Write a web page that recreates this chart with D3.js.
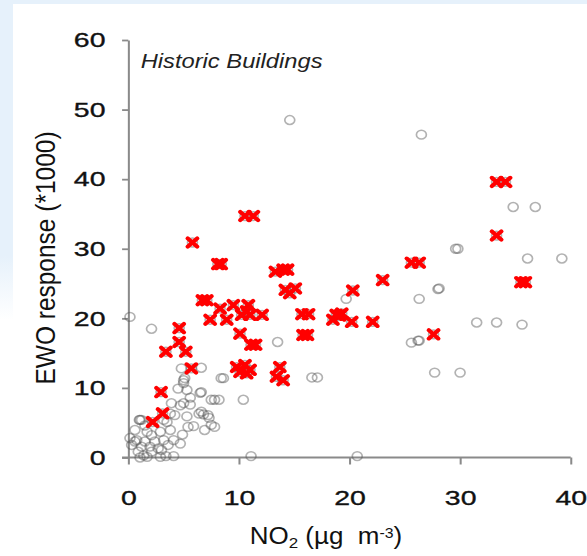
<!DOCTYPE html>
<html>
<head>
<meta charset="utf-8">
<script src="https://cdn.jsdelivr.net/npm/d3@7"></script>
<style>
  html, body { margin: 0; padding: 0; background: #fff; }
  svg { display: block; font-family: "Liberation Sans", Arial, sans-serif; }
</style>
</head>
<body>
<script>
// Historic Buildings: EWO response vs NO2

// all buildings (grey open circles), [NO2, EWO]
var allX = [14.6, 26.5, 34.8, 36.8, 29.6, 29.8, 36.1, 39.2, 28.0, 28.1, 26.3, 19.7, 25.6, 26.2, 26.3,
  31.5, 33.3, 35.6, 27.7, 30.0, 13.5, 16.6, 17.1, 10.4, 20.7, 11.1, 0.15, 2.1,
  8.4, 8.6, 7.8, 8.2, 6.4, 6.8, 7.3, 6.5, 5.4, 5.9, 4.9, 6.6, 4.8, 5.0, 5.1, 5.0, 4.5, 5.3, 6.6,
  5.6, 7.5, 3.9, 4.7, 5.0, 5.6, 6.6, 7.2, 3.8, 4.2, 5.3, 3.2, 3.5, 1.06, 7.5, 7.8, 6.9, 0.6, 1.7,
  2.9, 3.8, 2.1, 0.15, 0.76, 1.5, 2.4, 3.2, 4.1, 0.3, 1.2, 1.96, 2.7, 3.6, 4.7, 0.9, 2.1, 3.0,
  1.06, 1.7, 2.9, 3.4, 4.1, 1.4, 0.6, 1.0, 1.5, 1.2];
var allY = [48.5, 46.4, 36.0, 36.0, 30.0, 30.0, 28.6, 28.6, 24.2, 24.3, 22.8, 22.8, 16.5, 16.8, 16.8,
  19.4, 19.4, 19.1, 12.2, 12.2, 16.6, 11.5, 11.5, 8.3, 0.2, 0.2, 20.2, 18.5,
  11.4, 11.4, 8.3, 8.3, 6.3, 6.2, 5.7, 9.3, 4.4, 4.5, 3.3, 12.9, 12.8, 11.1, 11.4, 10.7, 9.9, 9.7, 9.4,
  8.6, 8.3, 7.8, 7.5, 7.8, 7.6, 6.6, 6.1, 6.3, 6.1, 5.9, 5.4, 5.1, 5.4, 4.7, 4.4, 3.95, 3.95, 3.7,
  3.7, 3.95, 3.2, 2.8, 2.5, 2.3, 2.3, 2.5, 2.5, 1.8, 1.55, 1.55, 1.3, 1.8, 2.0, 0.83, 0.83, 1.08,
  0.0, 0.1, 0.1, 0.2, 0.2, 0.3, 2.3, 5.4, 4.6, 5.4];

// highlighted buildings (red crosses), [NO2, EWO]
var redX = [33.3, 34.1, 33.3, 35.5, 35.9, 25.6, 26.3, 23.0, 27.6, 22.1, 20.3, 20.2, 18.5, 18.8, 19.3, 19.1,
  15.7, 16.3, 15.8, 16.2, 14.2, 14.6, 15.1, 13.3, 14.0, 14.4, 13.7, 13.4, 14.0, 10.55, 11.3,
  8.1, 8.4, 5.8, 6.7, 7.1, 8.3, 7.4, 8.9, 9.5, 10.85, 10.25, 11.0, 10.7, 12.1, 10.1, 11.1, 11.5,
  9.8, 10.55, 11.0, 10.1, 10.7, 4.6, 4.6, 5.2, 3.4, 5.7, 2.96, 3.1, 2.2];
var redY = [39.6, 39.6, 31.9, 25.2, 25.2, 28.0, 28.0, 25.5, 17.7, 19.5, 24.0, 19.5, 19.8, 20.5, 20.7, 20.4,
  20.6, 20.6, 17.6, 17.6, 24.1, 23.6, 24.3, 26.7, 27.0, 27.0, 13.0, 11.6, 11.1, 34.7, 34.7,
  27.8, 27.8, 30.9, 22.6, 22.6, 21.4, 19.8, 19.8, 21.9, 21.9, 20.5, 20.5, 21.0, 20.5, 17.8, 16.2, 16.2,
  13.0, 13.3, 12.6, 12.3, 12.1, 18.6, 16.6, 15.2, 15.2, 12.8, 9.4, 6.35, 5.1];

var xTicks = [0, 10, 20, 30, 40];
var yTicks = [0, 10, 20, 30, 40, 50, 60];

var width = 587, height = 556;
var stretch = 1.13;   // source picture is widened a little
var labStretch = 1.2; // tick labels are wider still

var allPts = allX.map(function(d, i) { return [d, allY[i]]; });
var redPts = redX.map(function(d, i) { return [d, redY[i]]; });

var svg = d3.select("body").append("svg")
    .attr("width", width)
    .attr("height", height);

// page background
var grad = svg.append("defs").append("linearGradient")
    .attr("id", "fade").attr("x1", 0).attr("y1", 0).attr("x2", 0).attr("y2", 1);
grad.append("stop").attr("offset", "0.8").attr("stop-color", "#e6f1fb");
grad.append("stop").attr("offset", "1").attr("stop-color", "#ffffff");

svg.append("rect").attr("width", width).attr("height", height).attr("fill", "#fff");
svg.append("rect").attr("width", width).attr("height", 4).attr("fill", "#e6f1fb");
svg.append("rect").attr("width", 13).attr("height", 320).attr("fill", "url(#fade)");

var g = svg.append("g").attr("transform", "scale(" + stretch + ",1)");

var x = d3.scaleLinear().domain([0, 40]).range([128.3 / stretch, 570.7 / stretch]);
var y = d3.scaleLinear().domain([0, 60]).range([457.5, 40]);

// axes
var xAxis = g.append("g")
    .attr("transform", "translate(0," + y(0) + ")")
    .call(d3.axisBottom(x).tickValues(xTicks).tickSize(7).tickPadding(26).tickSizeOuter(0));
var yAxis = g.append("g")
    .attr("transform", "translate(" + x(0) + ",0)")
    .call(d3.axisLeft(y).tickValues(yTicks).tickSize(5.5).tickPadding(4).tickSizeOuter(0));

[xAxis, yAxis].forEach(function(a) {
  a.select(".domain").attr("stroke", "#8a8a8a").attr("stroke-width", 1.8);
  a.selectAll(".tick line").attr("stroke", "#8a8a8a").attr("stroke-width", 1.8);
  a.selectAll(".tick text")
    .attr("fill", "#111")
    .attr("stroke", "#111")
    .attr("stroke-width", 0.35)
    .style("font-size", "21px")
    .style("font-family", "'Liberation Sans', Arial, sans-serif");
});
xAxis.select(".domain").attr("d", "M" + (x(0) - 5.5) + ",0H" + x(40));
xAxis.selectAll(".tick text").attr("transform", "scale(" + labStretch + ",1)")
    .attr("x", 0);
yAxis.selectAll(".tick text").attr("transform", "scale(" + labStretch + ",1)")
    .attr("x", -20.2 / labStretch);

// grey circles: every building
g.append("g")
  .selectAll("circle")
  .data(allPts.concat(redPts))
  .enter().append("circle")
    .attr("cx", function(d) { return x(d[0]); })
    .attr("cy", function(d) { return y(d[1]); })
    .attr("r", 4.4)
    .attr("fill", "none")
    .attr("stroke", "#555")
    .attr("stroke-opacity", 0.45)
    .attr("stroke-width", 1.5);

// red crosses
var s = 4.2;
g.append("g")
  .selectAll("path")
  .data(redPts)
  .enter().append("path")
    .attr("d", function(d) {
      var cx = x(d[0]), cy = y(d[1]);
      return "M" + (cx - s) + "," + (cy - s) + "L" + (cx + s) + "," + (cy + s) +
             "M" + (cx - s) + "," + (cy + s) + "L" + (cx + s) + "," + (cy - s);
    })
    .attr("stroke", "#ff0000")
    .attr("stroke-width", 3.9)
    .attr("stroke-linecap", "round")
    .attr("fill", "none");

// panel label
g.append("text")
    .attr("x", 124.5)
    .attr("y", 68)
    .style("font-size", "21px")
    .style("font-style", "italic")
    .attr("fill", "#222")
    .text("Historic Buildings");

// axis titles
var xt = g.append("text")
    .attr("x", 326 / stretch)
    .attr("y", 544)
    .attr("text-anchor", "middle")
    .style("font-size", "23px")
    .style("white-space", "pre")
    .attr("fill", "#111");
xt.append("tspan").text("NO");
xt.append("tspan").attr("baseline-shift", "-25%").style("font-size", "15px").text("2");
xt.append("tspan").text(" (\u00b5g  m");
xt.append("tspan").attr("baseline-shift", "40%").style("font-size", "14px").text("-3");
xt.append("tspan").text(")");

g.append("text")
    .attr("transform", "translate(" + (55 / stretch) + ",258) rotate(-90)")
    .attr("text-anchor", "middle")
    .style("font-size", "24.5px")
    .attr("fill", "#111")
    .text("EWO response (*1000)");
</script>
</body>
</html>
